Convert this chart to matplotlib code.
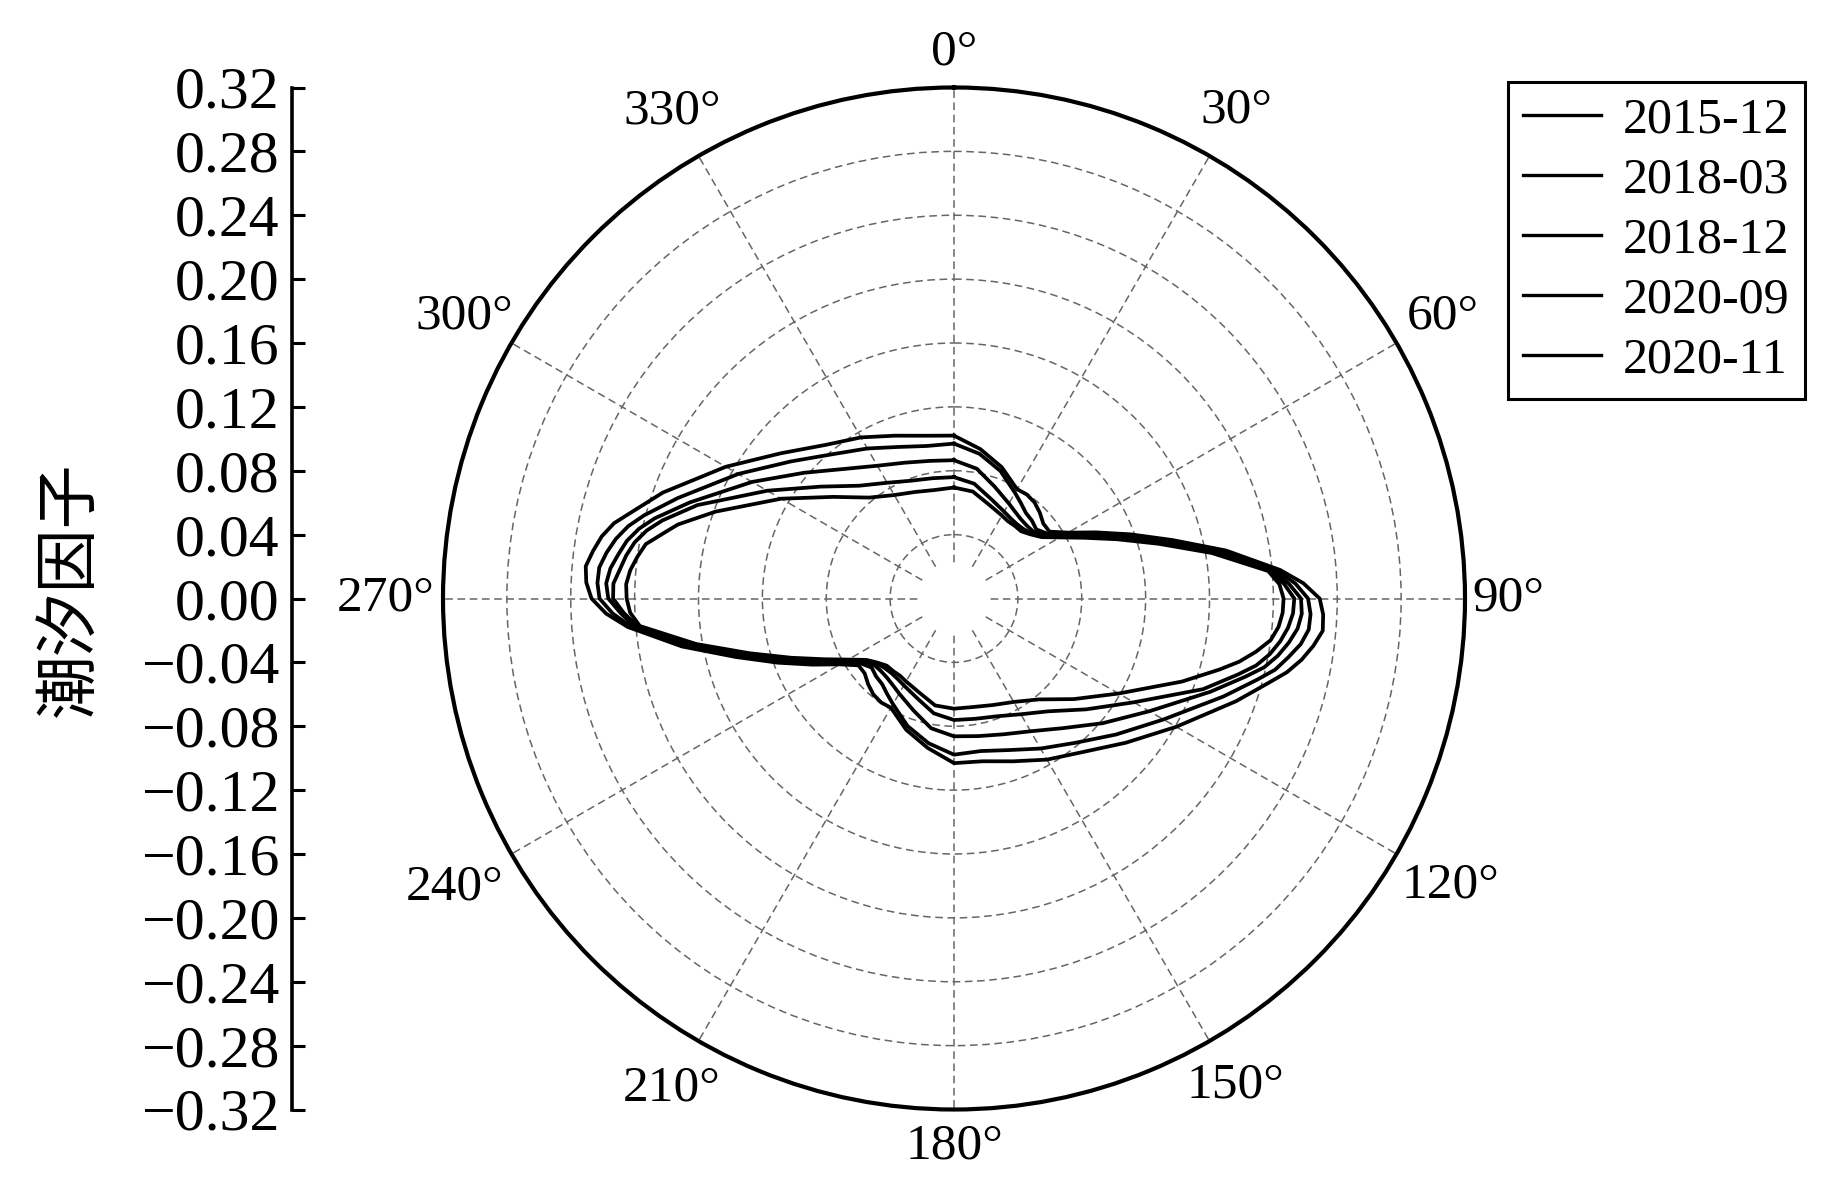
import numpy as np
import matplotlib
matplotlib.use('Agg')
import matplotlib.pyplot as plt

plt.rcParams['font.family'] = ['Liberation Serif', 'DejaVu Serif']
plt.rcParams['axes.unicode_minus'] = True

# azimuth in degrees, clockwise from north
azimuth = [0, 10, 20, 30, 35, 40, 45, 50, 55, 60, 65, 70, 75, 80, 85, 87.5, 90,
           92.5, 95, 97.5, 100, 102.5, 105, 110, 120, 130, 140, 150, 160, 170,
           180, 190, 200, 210, 215, 220, 225, 230, 235, 240, 245, 250, 255, 260,
           265, 267.5, 270, 272.5, 275, 277.5, 280, 282.5, 285, 290, 300, 310,
           320, 330, 340, 350, 360]

# tidal factor, one list per survey
tf_2015_12 = [.102, .095, .0875, .079, .0795, .0785, .076, .073, .073, .0825,
              .098, .1175, .1415, .173, .205, .219, .229, .2314, .2318, .227,
              .221, .2135, .204, .188, .1607, .1405, .1255, .1165, .1085, .1035,
              .1031, .095, .0875, .079, .0795, .0785, .076, .073, .073, .0825,
              .098, .1175, .1415, .173, .205, .218, .227, .2305, .2315, .228,
              .224, .218, .209, .194, .165, .1415, .1255, .1165, .1085, .1035,
              .102]
tf_2018_03 = [.097, .092, .085, .0764, .073, .070, .069, .0673, .071, .081,
              .096, .115, .139, .171, .203, .214, .2217, .2235, .223, .219,
              .2125, .206, .1965, .1795, .1515, .1325, .118, .1085, .101, .097,
              .0978, .092, .085, .0764, .073, .070, .069, .0673, .071, .081,
              .096, .115, .139, .171, .203, .214, .222, .2235, .223, .2195,
              .215, .209, .201, .184, .156, .1335, .118, .1085, .101, .097,
              .097]
tf_2018_12 = [.0866, .0825, .0745, .0687, .0665, .065, .0645, .065, .0695, .0795,
              .094, .113, .137, .1685, .201, .210, .2173, .218, .216, .2115,
              .206, .199, .189, .1708, .1412, .1215, .106, .096, .0905, .0875,
              .0863, .0825, .0745, .0687, .0665, .065, .0645, .065, .0695, .0795,
              .094, .113, .137, .1685, .201, .209, .2165, .218, .216, .212,
              .208, .202, .194, .176, .146, .1225, .106, .096, .0905, .0875,
              .0866]
tf_2020_09 = [.076, .073, .0667, .0628, .0615, .061, .0615, .0634, .068, .078,
              .092, .111, .135, .166, .199, .207, .2131, .2125, .210, .206,
              .2008, .1938, .184, .166, .130, .108, .0922, .0837, .0785, .0765,
              .0761, .073, .0667, .0628, .0615, .061, .0615, .0634, .068, .078,
              .092, .111, .135, .166, .199, .207, .2135, .2135, .210, .207,
              .203, .197, .189, .171, .135, .109, .0922, .0837, .0785, .0765,
              .076]
tf_2020_11 = [.0695, .068, .0629, .060, .059, .0593, .0595, .0625, .067, .0765,
              .090, .1085, .1325, .164, .1975, .204, .2064, .206, .204, .200,
              .192, .1829, .172, .152, .119, .098, .0825, .0748, .071, .069,
              .069, .068, .0629, .060, .059, .0593, .0595, .0625, .067, .0765,
              .090, .1085, .1325, .164, .1975, .203, .205, .2055, .2035, .200,
              .196, .187, .179, .159, .125, .099, .0825, .0748, .071, .069,
              .0695]

series = [('2015-12', tf_2015_12), ('2018-03', tf_2018_03), ('2018-12', tf_2018_12),
          ('2020-09', tf_2020_09), ('2020-11', tf_2020_11)]

r_ticks = [0.04, 0.08, 0.12, 0.16, 0.20, 0.24, 0.28, 0.32]
theta_ticks = [0, 30, 60, 90, 120, 150, 180, 210, 240, 270, 300, 330]
y_ticks = [0.32, 0.28, 0.24, 0.20, 0.16, 0.12, 0.08, 0.04, 0.00,
           -0.04, -0.08, -0.12, -0.16, -0.20, -0.24, -0.28, -0.32]

W, H = 1843, 1181
fig = plt.figure(figsize=(W / 100, H / 100), dpi=100)

cx, cy, R = 954, 598.5, 511
box = [(cx - R) / W, (H - cy - R) / H, 2 * R / W, 2 * R / H]

ax = fig.add_axes(box, projection='polar')
ax.set_theta_zero_location('N')
ax.set_theta_direction(-1)
ax.set_ylim(0, 0.32)
ax.set_yticks(r_ticks)
ax.set_yticklabels([])
ax.set_xticks(np.deg2rad(theta_ticks))
ax.set_xticklabels([])
ax.tick_params(axis='both', length=0)
ax.grid(True, color='0.4', linestyle=(0, (5, 3)), linewidth=1.1)
ax.spines['polar'].set_linewidth(3.0)

# blank spot in the middle where the spokes stop
ring = np.linspace(0, 2 * np.pi, 120)
ax.fill_between(ring, 0, 0.021, color='white', zorder=1.8, lw=0)

th = np.deg2rad(azimuth)
for name, vals in series:
    ax.plot(th, vals, color='black', lw=2.7, label=name, zorder=3)

# angle labels around the rim
label_px = [546, 564, 564, 554, 573, 562, 548, 565, 577, 568, 565, 563]
for a, d in zip(theta_ticks, label_px):
    ax.text(np.deg2rad(a), 0.32 * d / R, f'{a}°', ha='center', va='center',
            fontsize=37)

# left linear axis for the tidal factor
axl = fig.add_axes([292 / W, box[1], 0.001, box[3]])
axl.set_ylim(-0.32, 0.32)
axl.patch.set_visible(False)
for s in ['right', 'top', 'bottom']:
    axl.spines[s].set_visible(False)
axl.spines['left'].set_linewidth(2.6)
axl.set_xticks([])
axl.set_yticks(y_ticks)
axl.set_yticklabels([f'{v:.2f}'.replace('-', '\u2212') for v in y_ticks])
axl.tick_params(axis='y', direction='in', length=9, width=2.2, pad=9, labelsize=43)

fig.text(69.5 / W, 1 - 589 / H, '潮汐因子', rotation=90, ha='center', va='center',
         fontsize=46, family=['Noto Sans CJK SC', 'DejaVu Sans'])

h, l = ax.get_legend_handles_labels()
leg = fig.legend(h, l, loc='upper left', bbox_to_anchor=(1508 / W, 1 - 82 / H),
                 frameon=True, fancybox=False, edgecolor='black', framealpha=1,
                 fontsize=36, handlelength=1.55, handletextpad=0.45,
                 labelspacing=0.27, borderpad=0.3, borderaxespad=0)
leg.get_frame().set_linewidth(2.2)
for hl in leg.get_lines():
    hl.set_linewidth(2.4)

fig.savefig('out.png', dpi=100)
